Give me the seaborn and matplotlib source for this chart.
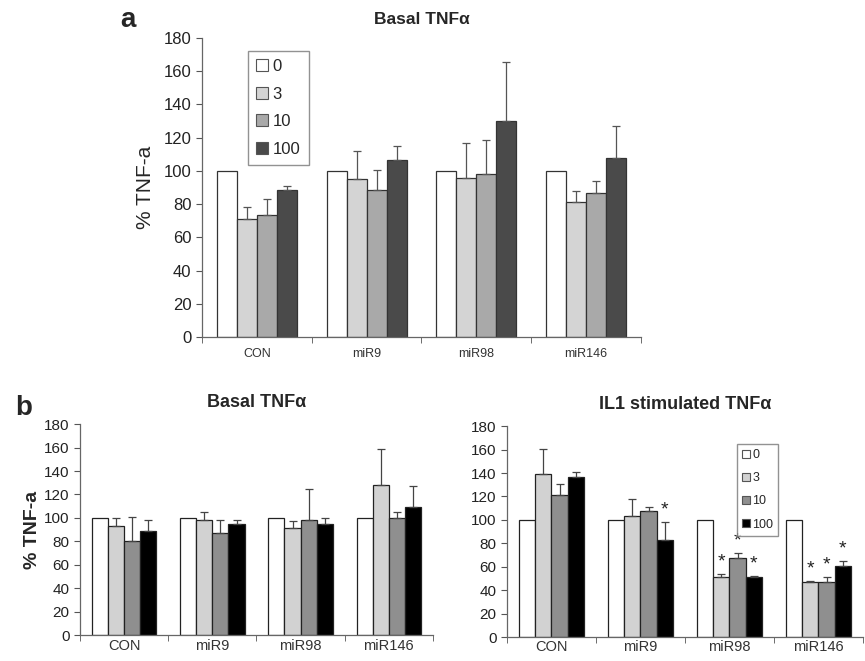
import seaborn as sns
import matplotlib.pyplot as plt
import pandas as pd
import numpy as np

groups = ["CON", "miR9", "miR98", "miR146"]
doses = ["0", "3", "10", "100"]

# panel a: basal TNFa (mean, upper error tip)
a_mean = {
    "0": [100, 100, 100, 100],
    "3": [70.9, 95.0, 96.0, 81.5],
    "10": [73.5, 88.6, 98.4, 86.9],
    "100": [88.6, 106.6, 130.3, 108.0],
}
a_top = {
    "0": [100, 100, 100, 100],
    "3": [78.5, 112.2, 117.0, 88.0],
    "10": [83.1, 100.4, 118.7, 94.2],
    "100": [91.0, 114.7, 165.3, 127.1],
}

# panel b left: basal TNFa
bl_mean = {
    "0": [100, 100, 100, 100],
    "3": [93.2, 98.3, 91.2, 128.2],
    "10": [80.4, 87.5, 98.3, 100.3],
    "100": [88.6, 94.6, 94.6, 109.0],
}
bl_top = {
    "0": [100, 100, 100, 100],
    "3": [100.0, 104.8, 97.7, 158.9],
    "10": [100.5, 98.3, 125.0, 104.8],
    "100": [98.3, 98.3, 99.7, 127.5],
}

# panel b right: IL1 stimulated TNFa
br_mean = {
    "0": [100, 100, 100, 100],
    "3": [139.0, 103.7, 51.4, 47.1],
    "10": [121.0, 107.6, 67.4, 46.6],
    "100": [137.0, 82.6, 51.4, 60.3],
}
br_top = {
    "0": [100, 100, 100, 100],
    "3": [160.5, 117.4, 54.2, 47.6],
    "10": [130.7, 111.0, 71.9, 51.0],
    "100": [140.8, 97.8, 52.0, 64.8],
}
br_star = {
    "0": [False, False, False, False],
    "3": [False, False, True, True],
    "10": [False, False, True, True],
    "100": [False, True, True, True],
}

colors_a = ["#ffffff", "#d4d4d4", "#a9a9a9", "#4a4a4a"]
colors_b = ["#ffffff", "#d2d2d2", "#8f8f8f", "#000000"]

sns.set_style("ticks")
plt.rcParams["font.family"] = ["Liberation Sans", "DejaVu Sans"]


def to_long(mean):
    rows = []
    for d in doses:
        for g, v in zip(groups, mean[d]):
            rows.append({"group": g, "dose": d, "value": v})
    return pd.DataFrame(rows)


def draw_panel(ax, mean, top, colors, edge, errc, tick_fs, xlab_fs, xpad, stars=None):
    df = to_long(mean)
    sns.barplot(data=df, x="group", y="value", hue="dose", hue_order=doses,
                palette=colors, width=0.73, errorbar=None, ax=ax,
                edgecolor=edge, linewidth=0.9, legend=False)
    for cont, d in zip(ax.containers, doses):
        xs = np.array([p.get_x() + p.get_width() / 2 for p in cont])
        hs = np.array(mean[d])
        up = np.array(top[d]) - hs
        m = up > 0.3
        ax.errorbar(xs[m], hs[m], yerr=[np.zeros(m.sum()), up[m]], fmt="none",
                    ecolor=errc, elinewidth=0.9, capsize=3, capthick=0.9)
        if stars is not None:
            for x, t, s in zip(xs, top[d], stars[d]):
                if s:
                    ax.text(x, t + 3, "*", ha="center", va="bottom",
                            fontsize=14, color="#222222")
    ax.set_ylim(0, 180)
    ax.set_xlim(-0.5, 3.5)
    ax.set_yticks(range(0, 181, 20))
    ax.set_xticks(range(4))
    ax.set_xticks(np.arange(-0.5, 4, 1), minor=True)
    ax.tick_params(axis="x", which="major", length=0, labelsize=xlab_fs,
                   labelcolor="#333333", pad=xpad)
    ax.tick_params(axis="x", which="minor", length=4, color="#555555")
    ax.tick_params(axis="y", length=4, labelsize=tick_fs, color="#555555",
                   labelcolor="#222222")
    for s in ["left", "bottom"]:
        ax.spines[s].set_color("#666666")
        ax.spines[s].set_linewidth(0.9)
    sns.despine(ax=ax)
    ax.set_xlabel("")
    ax.set_ylabel("")


fig = plt.figure(figsize=(8.65, 6.61), dpi=100)

ax_a = fig.add_axes([0.2335, 0.4902, 0.5075, 0.4523])
draw_panel(ax_a, a_mean, a_top, colors_a, "#333333", "#555555", 12, 9, 8)
ax_a.set_title("Basal TNF\u03b1", fontsize=12.5, fontweight="bold", pad=10)
ax_a.set_ylabel("% TNF-a", fontsize=15, labelpad=6)
handles = [plt.Rectangle((0, 0), 1, 1, fc=c, ec="#555555", lw=0.8) for c in colors_a]
ax_a.legend(handles, doses, loc="upper left", bbox_to_anchor=(0.085, 0.985),
            fontsize=12, frameon=True, fancybox=False, edgecolor="#777777",
            handlelength=0.7, handleheight=0.7, handletextpad=0.3,
            labelspacing=0.75, borderpad=0.5)

ax_bl = fig.add_axes([0.0925, 0.0393, 0.408, 0.319])
draw_panel(ax_bl, bl_mean, bl_top, colors_b, "#222222", "#444444", 11, 10.5, 3)
ax_bl.set_title("Basal TNF\u03b1", fontsize=13, fontweight="bold", pad=12)
ax_bl.set_ylabel("% TNF-a", fontsize=14, fontweight="bold", labelpad=2)

ax_br = fig.add_axes([0.586, 0.0363, 0.4116, 0.319])
draw_panel(ax_br, br_mean, br_top, colors_b, "#222222", "#444444", 11, 10.5, 2,
           stars=br_star)
ax_br.set_title("IL1 stimulated TNF\u03b1", fontsize=13, fontweight="bold", pad=12)
handles_b = [plt.Rectangle((0, 0), 1, 1, fc=c, ec="#555555", lw=0.8) for c in colors_b]
ax_br.legend(handles_b, doses, loc="upper left", bbox_to_anchor=(0.63, 0.945),
             fontsize=9, frameon=True, fancybox=False, edgecolor="#777777",
             handlelength=0.6, handleheight=0.6, handletextpad=0.2,
             labelspacing=0.9, borderpad=0.4)

fig.text(0.148, 0.97, "a", fontsize=20, fontweight="bold", ha="center", va="center")
fig.text(0.027, 0.383, "b", fontsize=20, fontweight="bold", ha="center", va="center")

fig.savefig("out.png", dpi=100)
